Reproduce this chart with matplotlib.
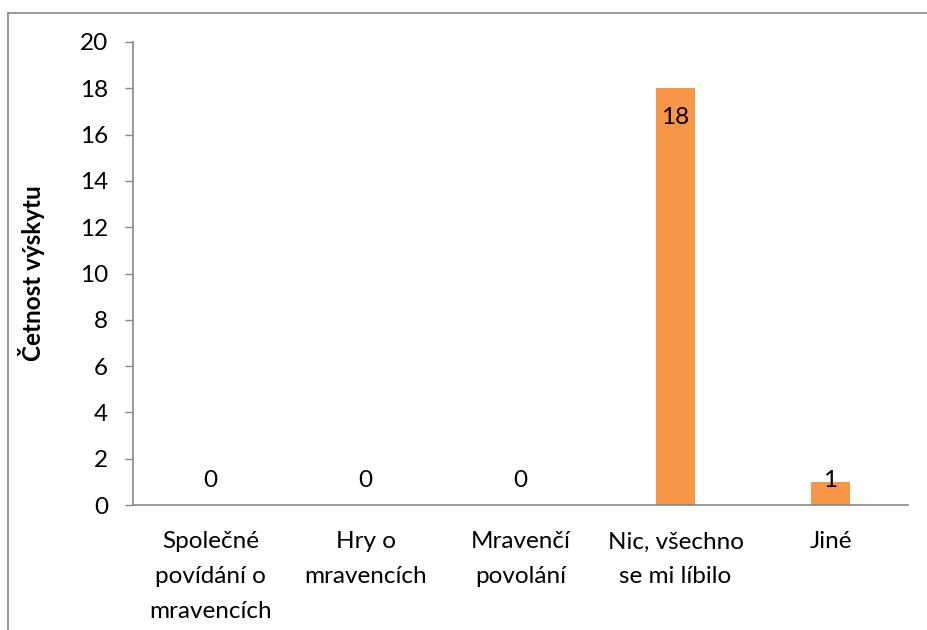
import matplotlib.pyplot as plt
from matplotlib.lines import Line2D

plt.rcParams['font.family'] = ['Lato', 'DejaVu Sans']

## data
categories = ['Společné\npovídání o\nmravencích', 'Hry o\nmravencích', 'Mravenčí\npovolání',
              'Nic, všechno\nse mi líbilo', 'Jiné']
counts = [0, 0, 0, 18, 1]
y_ticks = [0, 2, 4, 6, 8, 10, 12, 14, 16, 18, 20]

W, H = 928, 630
fig = plt.figure(figsize=(W / 100, H / 100), dpi=100)
ax = fig.add_axes([133 / W, 1 - 505 / H, (908 - 133) / W, (505 - 42) / H])

grey = '#868686'
orange = '#F79646'
fs = 17.5

x = list(range(len(categories)))
ax.bar(x, counts, width=0.25, color=orange, zorder=2)

## data labels (Excel "inside end" style)
for xi, v in zip(x, counts):
    ypos = v - 1.25 if v > 2 else 1.05
    ax.text(xi, ypos, str(v), ha='center', va='center', fontsize=fs, color='black', zorder=3)

ax.set_xlim(-0.5, len(categories) - 0.5)
ax.set_ylim(0, 20)
ax.set_yticks(y_ticks)
ax.set_xticks(x)
ax.set_xticklabels(categories, fontsize=fs, linespacing=1.8)
ax.tick_params(axis='x', length=0, pad=19)
ax.tick_params(axis='y', length=6, width=1, color=grey, direction='out', pad=12, labelsize=fs)

for s in ['top', 'right']:
    ax.spines[s].set_visible(False)
for s in ['left', 'bottom']:
    ax.spines[s].set_color(grey)
    ax.spines[s].set_linewidth(1.2)

ax.set_ylabel('Četnost výskytu', fontsize=fs, fontweight='bold')
ax.yaxis.set_label_coords(-0.113, 0.5)

## outer chart frame (partly cropped in the reference)
fx = 8.5 / W
fy = 1 - 12.5 / H
fig.add_artist(Line2D([fx, fx], [0, fy], color=grey, lw=1.2, transform=fig.transFigure))
fig.add_artist(Line2D([fx, 1], [fy, fy], color=grey, lw=1.2, transform=fig.transFigure))

fig.savefig('out.png', dpi=100)
